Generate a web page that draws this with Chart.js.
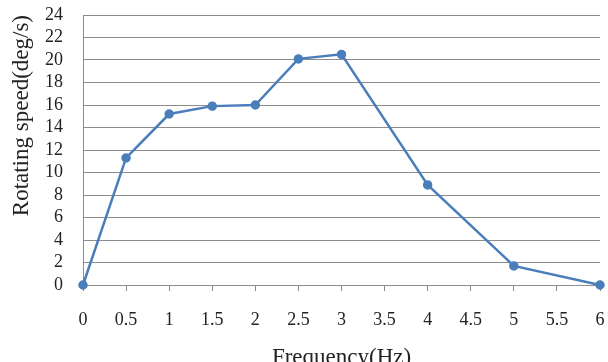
<!DOCTYPE html>
<html>
<head>
<meta charset="utf-8">
<script src="https://cdn.jsdelivr.net/npm/chart.js@4/dist/chart.umd.min.js"></script>
<style>
  html, body { margin: 0; padding: 0; background: #fff; }
  #wrap { width: 608px; height: 362px; position: relative; }
</style>
</head>
<body>
<div id="wrap"><canvas id="chFreq"></canvas></div>
<script>
// Rotating speed vs frequency
const freqHz = [0, 0.5, 1, 1.5, 2, 2.5, 3, 4, 5, 6];
const speedDeg = [0, 11.3, 15.2, 15.9, 16.0, 20.1, 20.5, 8.9, 1.7, 0];
const xTicks = [0, 0.5, 1, 1.5, 2, 2.5, 3, 3.5, 4, 4.5, 5, 5.5, 6];
const yTicks = [0, 2, 4, 6, 8, 10, 12, 14, 16, 18, 20, 22, 24];

const gridGray = '#8c8c8c';
const lineBlue = '#4a7ebb';
const serif = "'Liberation Serif', 'DejaVu Serif', serif";

const points = freqHz.map((f, i) => ({ x: f, y: speedDeg[i] }));

new Chart(document.getElementById('chFreq').getContext('2d'), {
    type: 'line',
    data: {
        datasets: [{
            data: points,
            borderColor: lineBlue,
            backgroundColor: lineBlue,
            borderWidth: 2.5,
            pointRadius: 3.5,
            pointHoverRadius: 3.5,
            tension: 0,
            clip: false
        }]
    },
    options: {
        responsive: true,
        maintainAspectRatio: false,
        animation: false,
        layout: { padding: { left: 4, right: 8, top: 15, bottom: 0 } },
        plugins: { legend: { display: false }, tooltip: { enabled: false } },
        scales: {
            x: {
                type: 'linear',
                min: 0, max: 6,
                afterBuildTicks: s => { s.ticks = xTicks.map(v => ({ value: v })); },
                ticks: { autoSkip: false, color: '#222', font: { family: serif, size: 18 }, padding: 18, maxRotation: 0,
                         callback: v => String(v) },
                grid: { drawOnChartArea: false, drawTicks: true, tickLength: 6, color: gridGray },
                border: { color: gridGray, width: 1 },
                title: { display: true, text: 'Frequency(Hz)', color: '#222', font: { family: serif, size: 23 }, padding: { top: 10, bottom: -10 } },
                afterFit: s => { s.height = 77; s.paddingLeft = 0; s.paddingRight = 0; }
            },
            y: {
                min: 0, max: 24,
                afterBuildTicks: s => { s.ticks = yTicks.map(v => ({ value: v })); },
                ticks: { autoSkip: false, color: '#222', font: { family: serif, size: 18 }, padding: 20 },
                grid: { color: gridGray, drawTicks: false, lineWidth: 1 },
                border: { color: gridGray, width: 1 },
                title: { display: true, text: 'Rotating speed(deg/s)', color: '#222', font: { family: serif, size: 23 }, align: 'end', padding: { bottom: 0 } },
                afterFit: s => { s.width = 79; s.paddingTop = 0; s.paddingBottom = 0; }
            }
        }
    }
});
</script>
</body>
</html>
